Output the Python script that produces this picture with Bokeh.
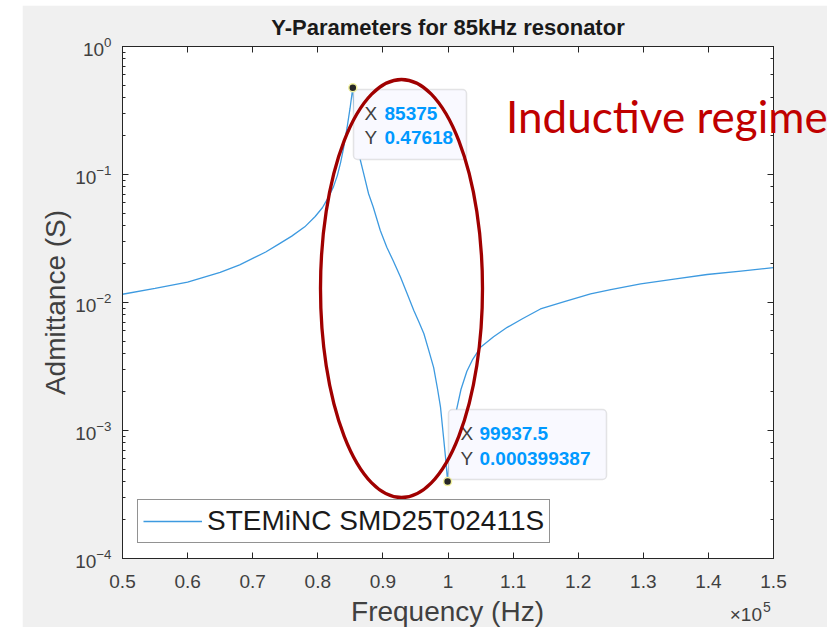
from bokeh.plotting import figure
from bokeh.models import (Label, BoxAnnotation, LinearAxis, LogAxis, SingleIntervalTicker,
                          LogTicker, CustomJSTickFormatter, GridBox, Div)
from bokeh.embed import file_html
from bokeh.resources import INLINE

# ---------------- data ----------------
freq_hz = [50000, 55000, 60000, 65000, 68000, 72000, 74000, 76000, 78000, 79600,
           80700, 81600, 82400, 83000, 83500, 83950, 84500, 84950, 85375, 85600,
           85900, 86200, 86560, 87000, 87800, 88500, 89600, 90600, 91600, 92700,
           93700, 94750, 95500, 96300, 97000, 97800, 98400, 98850, 99360, 99700,
           99937.5, 100300, 100800, 101400, 102000, 102900, 103800, 105000, 107000, 109100,
           111500, 114200, 118000, 121900, 125000, 129600, 135000, 139800, 145000, 150000]
admittance_s = [0.0116, 0.0129, 0.0144, 0.0172, 0.0197, 0.0248, 0.0286, 0.0330, 0.0390, 0.0470,
                0.0550, 0.0660, 0.0800, 0.0980, 0.124, 0.160, 0.233, 0.328, 0.47618, 0.32,
                0.22, 0.16, 0.128, 0.104, 0.0707, 0.056, 0.0365, 0.027, 0.0211, 0.0158,
                0.0118, 0.00866, 0.0071, 0.0057, 0.0043, 0.0031, 0.0021, 0.00152, 0.00084, 0.00056,
                0.000399387, 0.00070, 0.00110, 0.00152, 0.0021, 0.0029, 0.0036, 0.00447, 0.0054, 0.0064,
                0.0075, 0.0089, 0.0102, 0.0117, 0.0126, 0.0140, 0.0153, 0.01655, 0.0176, 0.0187]
series_name = "STEMiNC SMD25T02411S"

tip_freq = [85375, 99937.5]
tip_adm = [0.47618, 0.000399387]
tip_x_text = ["85375", "99937.5"]
tip_y_text = ["0.47618", "0.000399387"]

title_text = "Y-Parameters for 85kHz resonator"
x_label = "Frequency (Hz)"
y_label = "Admittance (S)"
note_text = "Inductive regime"
x_multiplier = ("\u00d710", "5")

# ---------------- geometry helpers (page pixels -> data) ----------------
FL, FR, FT, FB = 122, 773, 46, 558
X0, X1 = 5e4, 1.5e5
def sx2f(sx):
    return X0 + (sx - FL) / (FR - FL) * (X1 - X0)
def sy2v(sy):
    return 10 ** (-(sy - FT) / (FB - FT) * 4)

FONT = "Liberation Sans"
AX = "#262626"
TXT = "#404040"

p = figure(width=805, height=622, x_range=(X0, X1), y_range=(1e-4, 1),
           y_axis_type="log", output_backend="svg", toolbar_location=None,
           min_border_left=100, min_border_right=54, min_border_top=41, min_border_bottom=69,
           background_fill_color="white", border_fill_color="#f0f0f0",
           outline_line_color=AX, title=title_text)
p.margin = (5, 6, 0, 22)
p.grid.visible = False

p.title.align = "center"
p.title.text_font = FONT
p.title.text_font_size = "22px"
p.title.text_font_style = "bold"
p.title.text_color = "#1a1a1a"
p.title.standoff = 13

xfmt = CustomJSTickFormatter(code="return String(Math.round(tick/1e4)/10);")

def style_axis(ax, show_labels=True):
    ax.axis_line_color = AX
    ax.major_tick_line_color = AX
    ax.minor_tick_line_color = AX
    ax.major_tick_in = 6
    ax.major_tick_out = 0
    ax.minor_tick_in = 3
    ax.minor_tick_out = 0
    ax.major_label_text_font = FONT
    ax.major_label_text_color = TXT
    if show_labels:
        ax.major_label_text_font_size = "19px"
    else:
        ax.major_label_text_font_size = "0px"
        ax.major_label_text_alpha = 0
        ax.major_label_standoff = 0
    ax.axis_label_text_font = FONT
    ax.axis_label_text_font_style = "normal"
    ax.axis_label_text_color = TXT
    ax.axis_label_text_font_size = "28px"

xa = p.xaxis[0]
xa.ticker = SingleIntervalTicker(interval=10000, num_minor_ticks=0)
xa.formatter = xfmt
style_axis(xa)
xa.major_label_standoff = 16

ya = p.yaxis[0]
style_axis(ya)
ya.major_label_standoff = 11
ya.axis_label = y_label
ya.axis_label_standoff = 1

top_ax = LinearAxis(ticker=SingleIntervalTicker(interval=10000, num_minor_ticks=0), formatter=xfmt)
style_axis(top_ax, show_labels=False)
p.add_layout(top_ax, "above")
right_ax = LogAxis(ticker=LogTicker())
style_axis(right_ax, show_labels=False)
p.add_layout(right_ax, "right")

# curve
p.line(freq_hz, admittance_s, line_color="#3d9ae0", line_width=1.3, legend_label=series_name)

# legend
lg = p.legend[0]
lg.location = (15, 15)
lg.label_text_font = FONT
lg.label_text_font_size = "28px"
lg.label_text_color = "#1a1a1a"
lg.glyph_width = 59
lg.glyph_height = 20
lg.label_standoff = 5
lg.padding = 5
lg.margin = 0
lg.spacing = 0
lg.border_line_color = AX
lg.border_line_width = 1
lg.background_fill_color = "white"
lg.background_fill_alpha = 1

# data tips
tip_boxes = [(353, 466, 89, 159), (448, 606, 409, 479)]
tip_rows = [(364, 384, 112.7, 137.3), (460, 479, 433.3, 458.3)]
for i in range(2):
    l, r, t, b = tip_boxes[i]
    p.add_layout(BoxAnnotation(left=sx2f(l), right=sx2f(r), top=sy2v(t), bottom=sy2v(b),
                               fill_color="#f9f9ff", fill_alpha=1, line_color="#a8a8a8",
                               line_width=1.5, border_radius=4))
    xl, xv, r1, r2 = tip_rows[i]
    for txt, xx, yy, col, sty in [("X", xl, r1, TXT, "normal"), ("Y", xl, r2, TXT, "normal"),
                                  (tip_x_text[i], xv, r1, "#0099ff", "bold"),
                                  (tip_y_text[i], xv, r2, "#0099ff", "bold")]:
        p.add_layout(Label(x=sx2f(xx), y=sy2v(yy), text=txt, text_font=FONT,
                           text_font_size="19px", text_color=col, text_font_style=sty,
                           text_align="left", text_baseline="middle"))

dots = p.scatter(tip_freq, tip_adm, size=8, fill_color="#262626", line_color="#f2f2a0",
                 line_width=1.5)
dots.level = "overlay"

# ellipse annotation
ell = p.ellipse(x=[sx2f(401)], y=[sy2v(288)], width=162, height=418,
                width_units="screen", height_units="screen",
                fill_alpha=0, line_color="#a00000", line_width=3.3)
ell.level = "overlay"

# texts that lie across/outside the axes box: transparent HTML layer on top
html = (
    '<div style="position:relative;width:833px;height:627px;pointer-events:none;">'
    f'<span style="position:absolute;left:506px;top:94px;font-family:Lato;font-size:44px;'
    f'line-height:1;color:#c00000;white-space:nowrap;">{note_text}</span>'
    f'<span style="position:absolute;left:447.5px;top:598px;transform:translateX(-50%);'
    f'font-family:\'{FONT}\';font-size:28px;line-height:1;color:{TXT};white-space:nowrap;">{x_label}</span>'
    f'<span style="position:absolute;right:71px;top:605px;font-family:\'{FONT}\';font-size:19px;'
    f'line-height:1;color:{TXT};white-space:nowrap;">{x_multiplier[0]}</span>'
    f'<span style="position:absolute;left:763px;top:600px;font-family:\'{FONT}\';font-size:14px;'
    f'line-height:1;color:{TXT};white-space:nowrap;">{x_multiplier[1]}</span>'
    '</div>'
)
overlay = Div(text=html, width=833, height=627, margin=(0, 0, 0, 0))

root = GridBox(children=[(p, 0, 0), (overlay, 0, 0)])
open("out.html", "w").write(file_html(root, INLINE))
